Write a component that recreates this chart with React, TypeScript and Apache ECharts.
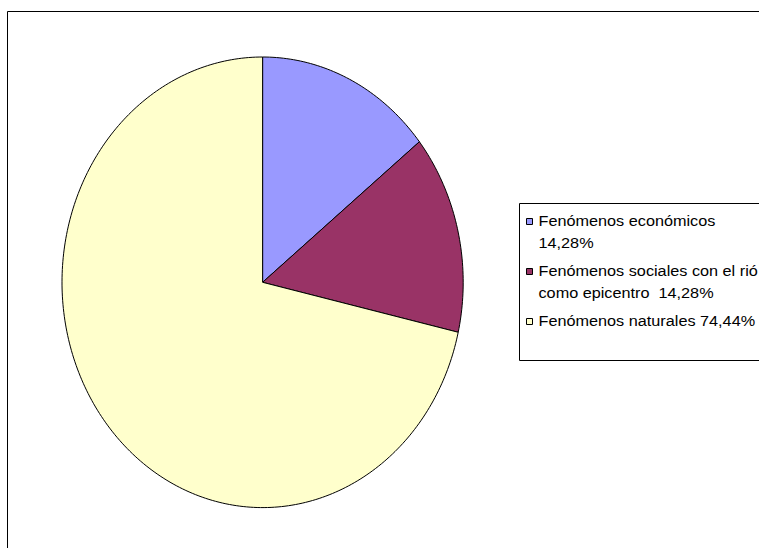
import React, { useEffect, useRef } from "react";
import * as echarts from "echarts";

const categories = [
  "Fenómenos económicos",
  "Fenómenos sociales con el rió como epicentro",
  "Fenómenos naturales",
];
const legendLabels = [
  "Fenómenos económicos\n14,28%",
  "Fenómenos sociales con el rió\ncomo epicentro  14,28%",
  "Fenómenos naturales 74,44%",
];
const values = [14.28, 14.28, 71.44];
const colors = ["#9999FF", "#993366", "#FFFFCC"];

// layout
const CX = 262.6;
const CY = 282.3;
const RX = 200.6;
const RY = 225.3;
const LEG_X = 519.5;
const LEG_Y = 203.5;
const LEG_H = 157;
const ITEM_STEP = 50;
const LINE_H = 22.5;

export default function App() {
  const ref = useRef<HTMLDivElement>(null);
  useEffect(() => {
    const chart = echarts.init(ref.current!, null, { renderer: "svg" });
    const total = values.reduce((a, b) => a + b, 0);
    const starts = values.map((_, i) => values.slice(0, i).reduce((a, b) => a + b, 0));
    const series = values.map((v, i) => ({
      type: "custom",
      name: categories[i],
      coordinateSystem: "none",
      silent: true,
      z: 2,
      data: [[v, starts[i]]],
      renderItem: (_params: any, api: any) => {
        const val = api.value(0) as number;
        const st = api.value(1) as number;
        const a0 = (st / total) * 2 * Math.PI;
        const a1 = ((st + val) / total) * 2 * Math.PI;
        const n = Math.max(2, Math.ceil(((a1 - a0) * 180) / Math.PI));
        const pts: number[][] = [[CX, CY]];
        for (let k = 0; k <= n; k++) {
          const a = a0 + ((a1 - a0) * k) / n;
          pts.push([CX + RX * Math.sin(a), CY - RY * Math.cos(a)]);
        }
        return {
          type: "polygon",
          shape: { points: pts },
          style: { fill: colors[i], stroke: "#000", lineWidth: 1 },
        };
      },
    }));

    const graphic: any[] = [
      {
        type: "rect",
        shape: { x: 7.5, y: 11.5, width: 900, height: 700 },
        style: { fill: "none", stroke: "#000", lineWidth: 1 },
        z: 0,
      },
      {
        type: "rect",
        shape: { x: LEG_X, y: LEG_Y, width: 400, height: LEG_H },
        style: { fill: "#fff", stroke: "#000", lineWidth: 1 },
        z: 1,
      },
    ];
    legendLabels.forEach((lbl, i) => {
      graphic.push({
        type: "rect",
        shape: { x: 526.5, y: 218.5 + ITEM_STEP * i, width: 6, height: 6 },
        style: { fill: colors[i], stroke: "#000", lineWidth: 1 },
        z: 3,
      });
      graphic.push({
        type: "text",
        x: 538.5,
        y: 220.8 - LINE_H / 2 + ITEM_STEP * i,
        scaleX: 1.16,
        z: 3,
        style: {
          text: lbl,
          fontFamily: "Liberation Sans",
          fontSize: 14,
          fill: "#000",
          lineHeight: LINE_H,
          verticalAlign: "top",
          align: "left",
        },
      });
    });

    chart.setOption({
      animation: false,
      backgroundColor: "#fff",
      series,
      graphic,
    });
    return () => chart.dispose();
  }, []);
  return (
    <div
      ref={ref}
      style={{ position: "absolute", left: 0, top: 0, width: 759, height: 548 }}
    />
  );
}
